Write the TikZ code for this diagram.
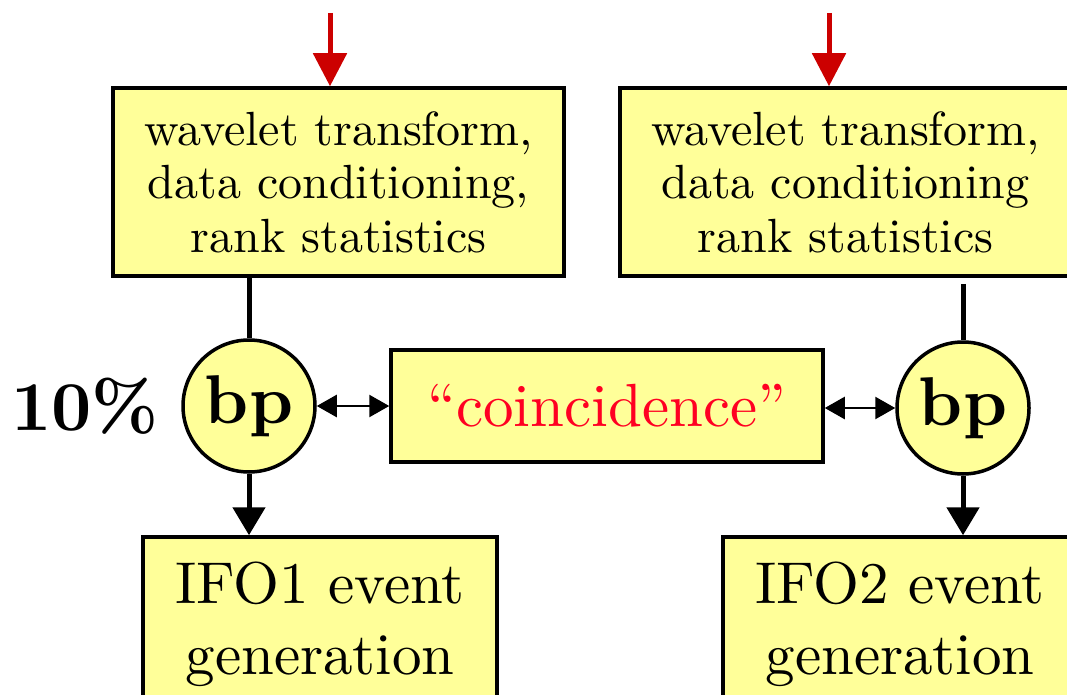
\documentclass[tikz,border=0pt]{standalone}
\usepackage{fontspec}
\setmainfont{lmroman10-regular}[Extension=.otf, BoldFont=lmroman10-bold]
\usepackage{tikz}
\usetikzlibrary{shapes, arrows.meta, positioning, calc}
\definecolor{padyellow}{RGB}{255,255,153}
\definecolor{feedred}{RGB}{204,0,0}
\definecolor{coincred}{RGB}{255,0,34}

\begin{document}
\begin{tikzpicture}[x=1pt, y=-1pt,
  stagebox/.style={draw, line width=3.5pt, fill=padyellow, align=center, inner sep=0pt},
  bpnode/.style={circle, draw, line width=3.5pt, fill=padyellow, minimum size=132pt, inner sep=0pt,
    font=\fontsize{69}{69}\bfseries\selectfont},
  feed/.style={feedred, line width=5pt, -{Triangle[length=33pt, width=33pt]}},
  flow/.style={line width=5pt, -{Triangle[length=28pt, width=32pt]}},
  stub/.style={line width=5pt},
  pair/.style={line width=2.5pt, {Triangle[length=20pt, width=22pt]}-{Triangle[length=20pt, width=22pt]}}]
\clip (0,0) rectangle (1067,695);

\node[stagebox, minimum width=451pt, minimum height=188pt, font=\fontsize{48}{53.5}\selectfont]
  (wtL) at (338.5,182) {wavelet transform,\\data conditioning,\\rank statistics};
\node[stagebox, minimum width=451pt, minimum height=188pt, font=\fontsize{48}{53.5}\selectfont]
  (wtR) at (845.5,182) {wavelet transform,\\data conditioning\\rank statistics};

\node[bpnode] (bpL) at (249,406) {bp};
\node[bpnode] (bpR) at (963,408) {bp};
\node[inner sep=0pt, left=22pt of bpL, font=\fontsize{70}{70}\bfseries\selectfont] (pct) {10\%};

\node[stagebox, minimum width=432pt, minimum height=112pt, text=coincred,
  font=\fontsize{61}{61}\selectfont] (coinc) at (607,406) {``coincidence''};

\node[stagebox, minimum width=354pt, minimum height=174pt, font=\fontsize{59}{71}\selectfont]
  (ifoL) at (320,624) {IFO1 event\\generation};
\node[stagebox, minimum width=354pt, minimum height=174pt, font=\fontsize{59}{71}\selectfont]
  (ifoR) at (900,624) {IFO2 event\\generation};

\coordinate (inL) at (330,13);
\coordinate (inR) at (829,13);
\draw[feed] (inL) -- (inL |- wtL.north);
\draw[feed] (inR) -- (inR |- wtR.north);

\draw[stub] (bpL.north |- wtL.south) -- (bpL.north);
\draw[stub, shorten <=6pt] (bpR.north |- wtR.south) -- (bpR.north);

\draw[pair] (bpL.east) -- (coinc.west);
\draw[pair] (coinc.east |- bpR.west) -- (bpR.west);

\draw[flow] (bpL.south) -- (bpL.south |- ifoL.north);
\draw[flow] (bpR.south) -- (bpR.south |- ifoR.north);
\end{tikzpicture}
\end{document}
